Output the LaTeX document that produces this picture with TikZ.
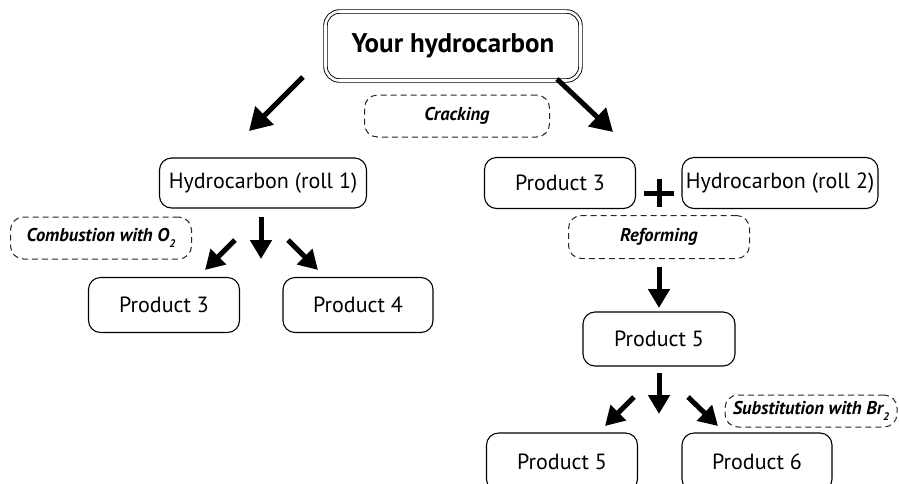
\documentclass[tikz,border=0pt]{standalone}
\usepackage{fontspec}
\setmainfont{PT Sans}
\usetikzlibrary{arrows.meta}
\newcommand{\lowsub}[1]{\raisebox{-0.3em}{\fontsize{11}{11}\selectfont #1}}
\begin{document}
\begin{tikzpicture}[x=1pt,y=-1pt,
 box/.style={draw, rounded corners=12pt, line width=1.1pt, font=\fontsize{22}{26}\selectfont, inner sep=0pt},
 topbox/.style={draw, double, double distance=2.6pt, line width=0.9pt, rounded corners=14pt, font=\bfseries\fontsize{27}{30}\selectfont, inner sep=0pt},
 lbl/.style={draw=black!85, dash pattern=on 6pt off 4pt, rounded corners=13pt, line width=1pt, font=\bfseries\itshape\fontsize{18.5}{22}\selectfont, inner sep=0pt},
 arr/.style={line width=5pt, -{Triangle[length=19pt,width=21pt]}},
 bigarr/.style={line width=5pt, -{Triangle[length=22pt,width=25pt]}},
 plus/.style={line width=5pt}]
\useasboundingbox (0,0) rectangle (899,483);
\clip (0,0) rectangle (899,483);

\node[topbox, minimum width=255pt, minimum height=69pt] (top) at (453,46) {Your hydrocarbon};
\node[lbl, minimum width=185pt, minimum height=42pt] (crack) at (457,116) {Cracking};

\node[box, minimum width=207pt, minimum height=50pt] (h1) at (263,183) {Hydrocarbon (roll 1)};
\node[box, minimum width=151pt, minimum height=51pt] (p3r) at (560,183) {Product 3};
\node[box, minimum width=196pt, minimum height=51pt] (h2) at (780,183) {Hydrocarbon (roll 2)};
\coordinate (pc) at (659,193);
\draw[plus] ([xshift=-15pt]pc) -- ([xshift=15pt]pc);
\draw[plus] ([yshift=-14pt]pc) -- ([yshift=14pt]pc);

\node[lbl, minimum width=181pt, minimum height=43pt] (reform) at (659,237) {Reforming};
\node[box, minimum width=152pt, minimum height=54pt] (p5) at (659,339) {Product 5};

\node[lbl, minimum width=181pt, minimum height=42pt] (comb) at (101,238) {Combustion with O\lowsub{2}};
\node[box, minimum width=151pt, minimum height=55pt] (p3l) at (164,305) {Product 3};
\node[box, minimum width=150pt, minimum height=55pt] (p4) at (358,305) {Product 4};

\node[lbl, minimum width=172pt, minimum height=32pt] (subst) at (811,411) {Substitution with Br\lowsub{2}};
\node[box, minimum width=151pt, minimum height=58pt] (p5b) at (562,462) {Product 5};
\node[box, minimum width=150pt, minimum height=58pt] (p6) at (757,462) {Product 6};

% big arrows from top
\coordinate (a1s) at (303,77); \coordinate (a1e) at (249,131);
\coordinate (a2s) at (557,79); \coordinate (a2e) at (613,132);
\draw[bigarr] (a1s) -- (a1e);
\draw[bigarr] (a2s) -- (a2e);

% left branch arrows
\coordinate (l1s) at (235,240); \coordinate (l1e) at (205,270);
\coordinate (l2s) at (261,217); \coordinate (l2e) at (261,259);
\coordinate (l3s) at (288,240); \coordinate (l3e) at (318,270);
\draw[arr] (l1s) -- (l1e);
\draw[arr] (l2s) -- (l2e);
\draw[arr] (l3s) -- (l3e);

% reforming arrow
\coordinate (rs) at (659,267); \coordinate (re) at (659,308);
\draw[arr] (rs) -- (re);

% bottom arrows
\coordinate (b1s) at (634,397); \coordinate (b1e) at (605,426);
\coordinate (b2s) at (659,373); \coordinate (b2e) at (659,414);
\coordinate (b3s) at (688,397); \coordinate (b3e) at (718,426);
\draw[arr] (b1s) -- (b1e);
\draw[arr] (b2s) -- (b2e);
\draw[arr] (b3s) -- (b3e);
\end{tikzpicture}
\end{document}
